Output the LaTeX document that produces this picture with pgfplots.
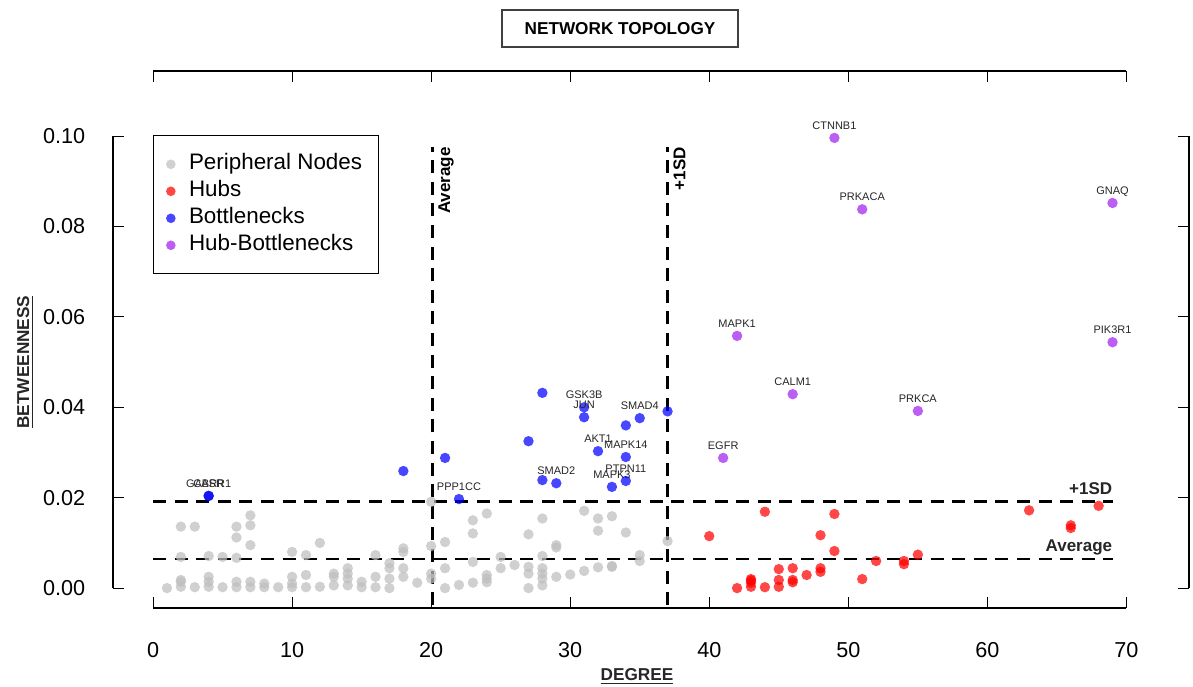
\documentclass[border=0pt]{standalone}
\usepackage{pgfplots}
\pgfplotsset{compat=1.18}
\usepackage{fontspec}
\setmainfont{Liberation Sans}

\definecolor{rgray}{RGB}{190,190,190}
\definecolor{rred}{RGB}{255,0,0}
\definecolor{rblue}{RGB}{0,0,255}
\definecolor{rpurple}{RGB}{160,32,240}

\pgfplotsset{
  pts/.style={only marks, mark=*, mark size=2.6pt, color=#1,
    mark options={fill=#1, draw opacity=0, fill opacity=0.72},
    legend image code/.code={\path[draw=none, fill=#1, fill opacity=0.72] (0pt,0pt) circle (2.4pt);
      \path[draw=none, fill=none] (-2.6pt,0pt) -- (2.6pt,0pt);}},
  genelab/.style={nodes near coords, point meta=explicit symbolic,
    every node near coord/.style={font=\fontsize{5.5}{6}\selectfont,
      text=black!85, anchor=base, yshift=4.4pt, inner sep=0pt, opacity=1, text opacity=1}},
}
\tikzset{thr/.style={black, line width=1.3pt, dash pattern=on 6.5pt off 4.3pt}}

\begin{document}
\begin{tikzpicture}
\begin{axis}[
  scale only axis,
  width=538pt, height=268.5pt,
  at={(56.5pt,39pt)}, anchor=south west,
  xmin=-2.88, xmax=74.5,
  ymin=-0.0044, ymax=0.1144,
  separate axis lines,
  axis line style={draw=none},
  clip=false,
  xtick={0,10,...,70},
  ytick={0,0.02,0.04,0.06,0.08,0.10},
  xtick pos=both, ytick pos=both,
  xticklabel pos=lower, yticklabel pos=left,
  tick align=inside,
  major tick length=5.5pt,
  every tick/.style={black, line width=0.5pt},
  scaled y ticks=false,
  /pgf/number format/assume math mode=true,
  tick label style={font=\fontsize{10.8}{13}\selectfont},
  xticklabel style={yshift=-13.7pt},
  yticklabel style={xshift=-10.4pt, /pgf/number format/fixed,
    /pgf/number format/fixed zerofill, /pgf/number format/precision=2},
  legend cell align=left,
  legend style={at={(axis cs:0,0.1002)}, anchor=north west, draw=black,
    line width=0.6pt, inner xsep=6pt, inner ysep=7.5pt,
    font=\fontsize{11.2}{13}\selectfont,
    nodes={inner sep=2pt, text height=7.6pt, text depth=1.9pt},
    column sep=4.5pt, row sep=0pt},
]

% peripheral nodes
\addplot[pts=rgray] table {
x y
1 0.0000
2 0.0136
2 0.0069
2 0.0018
2 0.0014
2 0.0003
3 0.0136
3 0.0002
4 0.0071
4 0.0025
4 0.0014
4 0.0003
5 0.0069
5 0.0002
6 0.0136
6 0.0112
6 0.0067
6 0.0014
6 0.0002
7 0.0161
7 0.0139
7 0.0095
7 0.0014
7 0.0002
8 0.0010
8 0.0002
9 0.0002
10 0.0080
10 0.0025
10 0.0010
10 0.0002
11 0.0073
11 0.0029
11 0.0002
12 0.0100
12 0.0003
13 0.0032
13 0.0025
13 0.0006
14 0.0044
14 0.0032
14 0.0021
14 0.0006
15 0.0014
15 0.0002
16 0.0073
16 0.0025
16 0.0002
17 0.0055
17 0.0044
17 0.0021
17 0.0000
18 0.0088
18 0.0080
18 0.0044
18 0.0025
19 0.0012
20 0.0191
20 0.0093
20 0.0032
20 0.0021
21 0.0102
21 0.0044
21 0.0000
22 0.0007
23 0.0150
23 0.0121
23 0.0058
23 0.0012
24 0.0165
24 0.0029
24 0.0021
24 0.0013
25 0.0069
25 0.0044
26 0.0051
27 0.0119
27 0.0047
27 0.0032
27 0.0000
28 0.0154
28 0.0071
28 0.0044
28 0.0032
28 0.0021
28 0.0006
29 0.0095
29 0.0090
29 0.0025
30 0.0030
31 0.0171
31 0.0038
32 0.0154
32 0.0127
32 0.0046
33 0.0159
33 0.0049
33 0.0047
34 0.0123
35 0.0073
35 0.0060
37 0.0104
};
\addlegendentry{Peripheral Nodes}

% hubs
\addplot[pts=rred] table {
x y
40 0.0115
42 0.0000
43 0.0020
43 0.0017
43 0.0012
43 0.0003
44 0.0169
44 0.0002
45 0.0042
45 0.0018
45 0.0003
46 0.0044
46 0.0018
46 0.0013
47 0.0029
48 0.0117
48 0.0044
48 0.0036
49 0.0164
49 0.0082
51 0.0020
52 0.0060
54 0.0060
54 0.0053
55 0.0074
63 0.0172
66 0.0139
66 0.0133
68 0.0182
};
\addlegendentry{Hubs}

% bottlenecks without labels
\addplot[pts=rblue] table {
x y
18 0.0259
21 0.0288
27 0.0325
28 0.0432
28 0.0239
34 0.0360
37 0.0391
};
\addlegendentry{Bottlenecks}

% hub-bottlenecks
\addplot[pts=rpurple, genelab] table[meta=lab] {
x y lab
49 0.0996 CTNNB1
51 0.0838 PRKACA
69 0.0852 GNAQ
69 0.0544 PIK3R1
42 0.0558 MAPK1
46 0.0429 CALM1
55 0.0392 PRKCA
41 0.0288 EGFR
};
\addlegendentry{Hub-Bottlenecks}

% labelled bottlenecks
\addplot[pts=rblue, genelab, forget plot] table[meta=lab] {
x y lab
4 0.0204 GABRR1
4 0.0204 CASR
22 0.0197 PPP1CC
29 0.0232 SMAD2
31 0.0400 GSK3B
31 0.0378 JUN
32 0.0303 AKT1
33 0.0224 MAPK3
34 0.0290 MAPK14
34 0.0237 PTPN11
35 0.0376 SMAD4
};

% threshold lines
\draw[thr] (axis cs:20.1,-0.0038) -- (axis cs:20.1,0.0976);
\draw[thr] (axis cs:37.0,-0.0038) -- (axis cs:37.0,0.0976);
\draw[thr] (axis cs:0,0.0192) -- (axis cs:69,0.0192);
\draw[thr] (axis cs:0,0.0064) -- (axis cs:69,0.0064);

\node[rotate=90, anchor=north east, inner sep=0pt, font=\fontsize{8.5}{10}\selectfont\bfseries]
  at (axis cs:20.5,0.0976) {Average};
\node[rotate=90, anchor=north east, inner sep=0pt, font=\fontsize{8.5}{10}\selectfont\bfseries]
  at (axis cs:37.4,0.0976) {+1SD};
\node[anchor=base east, inner sep=0pt, font=\fontsize{8.5}{10}\selectfont\bfseries, text=black!85]
  at (axis cs:69,0.0206) {+1SD};
\node[anchor=base east, inner sep=0pt, font=\fontsize{8.5}{10}\selectfont\bfseries, text=black!85]
  at (axis cs:69,0.0080) {Average};

% axis lines, R style
\draw[black, line width=0.7pt] (axis cs:0,-0.0044) -- (axis cs:70,-0.0044);
\draw[black, line width=0.7pt] (axis cs:0,0.1144) -- (axis cs:70,0.1144);
\draw[black, line width=0.7pt] (axis cs:-2.88,0) -- (axis cs:-2.88,0.10);
\draw[black, line width=0.7pt] (axis cs:74.5,0) -- (axis cs:74.5,0.10);
\end{axis}

\node[draw=black!75, line width=0.6pt, minimum width=118pt, minimum height=18.5pt,
  inner sep=0pt, font=\fontsize{8.6}{10}\selectfont\bfseries] at (310pt,328.75pt) {NETWORK TOPOLOGY};
\node[anchor=base, inner sep=0pt, font=\fontsize{8.6}{10}\selectfont\bfseries, text=black!85]
  at (318.5pt,3pt) {\underline{DEGREE}};
\node[rotate=90, anchor=base, inner sep=0pt, font=\fontsize{8.6}{10}\selectfont\bfseries, text=black!85]
  at (14.5pt,162pt) {\underline{BETWEENNESS}};

\pgfresetboundingbox
\useasboundingbox (0,0) rectangle (596.5pt,343pt);
\end{tikzpicture}
\end{document}
